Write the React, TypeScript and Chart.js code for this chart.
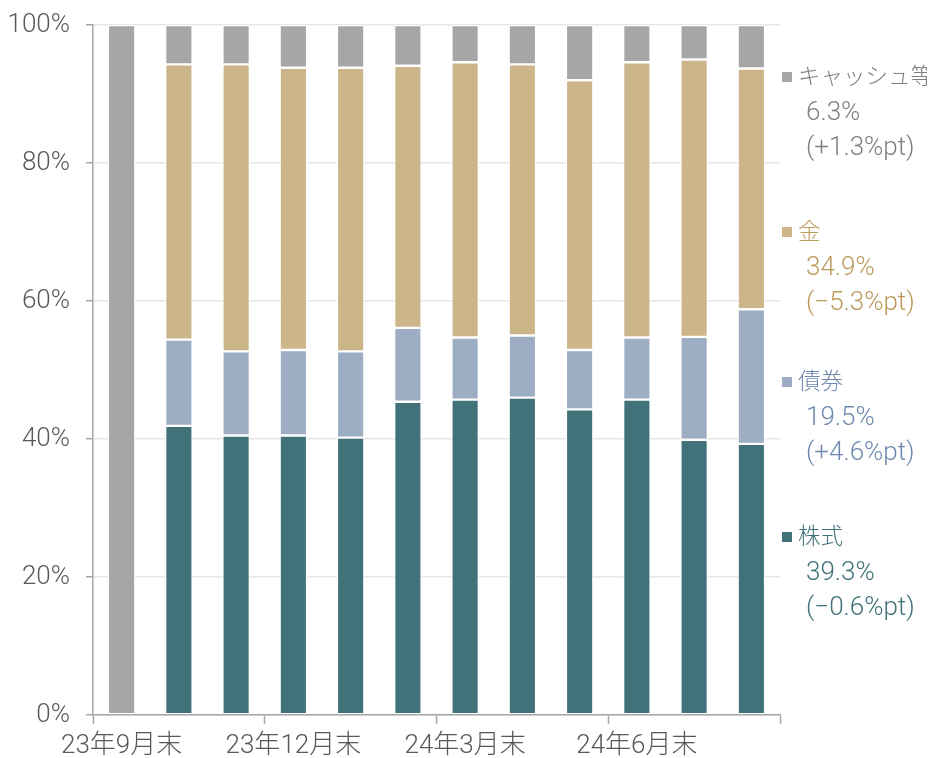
import React, { useEffect, useRef } from "react";
import { Chart, registerables } from "chart.js";

Chart.register(...registerables);

const categories = [
  "23年9月末", "23年10月末", "23年11月末", "23年12月末",
  "24年1月末", "24年2月末", "24年3月末", "24年4月末",
  "24年5月末", "24年6月末", "24年7月末", "24年8月末",
];
const stocks = [0, 41.9, 40.5, 40.5, 40.2, 45.4, 45.7, 46.0, 44.3, 45.7, 39.9, 39.3];
const bonds = [0, 12.5, 12.2, 12.4, 12.5, 10.7, 9.0, 9.0, 8.6, 9.0, 14.9, 19.5];
const gold = [0, 39.9, 41.6, 40.9, 41.1, 38.0, 39.9, 39.3, 39.1, 39.9, 40.2, 34.9];
const cash = [100, 5.7, 5.7, 6.2, 6.2, 5.9, 5.4, 5.7, 8.0, 5.4, 5.0, 6.3];
const yTicks = [0, 20, 40, 60, 80, 100];

const seriesNames = ["株式", "債券", "金", "キャッシュ等"];
const seriesColors = ["#41727a", "#9dadc3", "#ccb589", "#a6a6a6"];
const legendTextColors = ["#41727a", "#6f89ae", "#bc9a5c", "#7f7f7f"];

const FONT = 'Roboto, "Noto Sans CJK JP", sans-serif';

function fmtChange(v: number) {
  const s = v >= 0 ? "+" : "−";
  return `(${s}${Math.abs(v).toFixed(1)}%pt)`;
}

export default function App() {
  const canvasRef = useRef<HTMLCanvasElement | null>(null);

  useEffect(() => {
    document.documentElement.style.overflow = "hidden";
    const canvas = canvasRef.current;
    if (!canvas) return;
    const seriesData = [stocks, bonds, gold, cash];
    const chart = new Chart(canvas, {
      type: "bar",
      data: {
        labels: categories,
        datasets: seriesData.map((d, i) => ({
          label: seriesNames[i],
          data: d,
          backgroundColor: seriesColors[i],
          borderColor: "#ffffff",
          borderWidth: 1.2,
          borderSkipped: false,
          barPercentage: 0.48,
          categoryPercentage: 1,
        })),
      },
      options: {
        responsive: false,
        animation: false,
        layout: { padding: { top: 17, right: 147, left: 0, bottom: 0 } },
        plugins: {
          legend: { display: false },
          tooltip: { enabled: false },
        },
        scales: {
          x: {
            stacked: true,
            offset: true,
            afterFit: (scale: any) => {
              scale.height = 51;
            },
            grid: {
              display: true,
              offset: true,
              drawOnChartArea: false,
              drawTicks: true,
              tickLength: 9,
              tickWidth: 1.5,
              tickColor: (ctx: any) =>
                ctx.type !== "tick" || ctx.index % 3 === 0 ? "#a6a6a6" : "rgba(0,0,0,0)",
            },
            border: { display: true, color: "#a6a6a6", width: 1.5 },
            ticks: {
              autoSkip: false,
              maxRotation: 0,
              minRotation: 0,
              padding: 7,
              color: "#595959",
              font: { family: FONT, size: 26, weight: "300" as any },
              callback: (_v: any, i: number) => (i % 3 === 0 ? categories[i] : ""),
            },
          },
          y: {
            stacked: true,
            min: 0,
            max: 100,
            afterFit: (scale: any) => {
              scale.width = 85;
              scale.paddingTop = 0;
              scale.paddingBottom = 0;
            },
            afterBuildTicks: (scale: any) => {
              scale.ticks = yTicks.map((v) => ({ value: v }));
            },
            grid: {
              color: "#e6e6e6",
              lineWidth: 1.5,
              drawTicks: true,
              tickLength: 7,
              tickColor: "#a6a6a6",
              tickWidth: 1.5,
            },
            border: { display: true, color: "#a6a6a6", width: 1.5 },
            ticks: {
              padding: 16,
              color: "#595959",
              font: { family: FONT, size: 26, weight: "300" as any },
              callback: (v: any) => `${v}%`,
            },
          },
        },
      },
    });
    return () => chart.destroy();
  }, []);

  const last = stocks.length - 1;
  const legendSeries = [cash, gold, bonds, stocks];
  const legendIdx = [3, 2, 1, 0];
  const groupTops = [51, 206, 356, 511];

  return (
    <div style={{ position: "relative", width: 919, height: 758 }}>
      <canvas ref={canvasRef} width={919} height={758} style={{ display: "block" }} />
      {legendSeries.map((d, k) => {
        const i = legendIdx[k];
        const color = legendTextColors[i];
        const lines = [`${d[last].toFixed(1)}%`, fmtChange(d[last] - d[last - 1])];
        return (
          <div
            key={k}
            style={{
              position: "absolute",
              left: 774,
              top: groupTops[k],
              fontFamily: FONT,
              fontWeight: 300,
              fontSize: 26,
              lineHeight: "35px",
              color,
              whiteSpace: "nowrap",
            }}
          >
            <div style={{ display: "flex", alignItems: "center", height: 35 }}>
              <span
                style={{
                  display: "inline-block",
                  width: 10,
                  height: 10,
                  background: seriesColors[i],
                  marginRight: 6,
                }}
              />
              <span style={{ fontSize: 22.5 }}>{seriesNames[i]}</span>
            </div>
            {lines.map((t, j) => (
              <div key={j} style={{ paddingLeft: 24 }}>
                {t}
              </div>
            ))}
          </div>
        );
      })}
    </div>
  );
}
